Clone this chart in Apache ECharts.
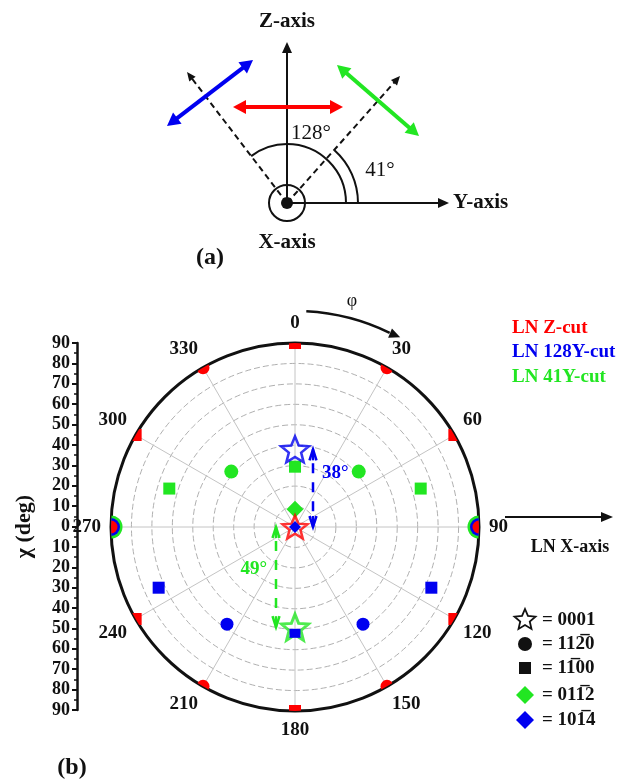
<!DOCTYPE html>
<html>
<head>
<meta charset="utf-8">
<title>LN pole figure</title>
<script src="https://cdn.jsdelivr.net/npm/echarts@6/dist/echarts.min.js"></script>
<style>
  html, body { margin: 0; padding: 0; background: #fff; }
  #chart { width: 624px; height: 780px; }
</style>
</head>
<body>
<div id="chart"></div>
<script>
// 数据: [chi, phi]
const zStar = [[0, 0]];
const zSquares = [[90, 0], [90, 60], [90, 120], [90, 180], [90, 240], [90, 300]];
const zCircles = [[90, 30], [90, 90], [90, 150], [90, 210], [90, 270], [90, 330]];

const y128Star = [[38, 0]];
const y128Circles = [[58, 145], [58, 215]];
const y128RimCircles = [[90, 90], [90, 270]];
const y128Squares = [[73, 114], [73, 246], [52, 180]];
const y128Diamond = [[0, 0]];

const y41Star = [[49, 180]];
const y41Circles = [[41.3, 49], [41.3, 311]];
const y41RimCircles = [[90, 90], [90, 270]];
const y41Squares = [[64.3, 73], [64.3, 287], [29.5, 0]];
const y41Diamond = [[8.7, 0]];

// chi 区间标注 [from, to, phi]
const chiArrows = [[0, 38, 0], [0, 49, 180]];

// 刻度
const chiMin = -90, chiMax = 90, chiStep = 10;
const phiStep = 30;

const RED = '#ff0000';
const BLUE = '#0000f0';
const GREEN = '#22e622';
const SERIF = '"Liberation Serif", "Times New Roman", serif';
const STAR = 'path://M50,0 L62.9,32.2 L97.6,34.5 L70.9,56.8 L79.4,90.5 L50,72 L20.6,90.5 L29.1,56.8 L2.4,34.5 L37.1,32.2 Z';

const arrowStyle = [
  { color: BLUE, dx: 18, text: '38°', at: 0.7, side: 1 },
  { color: GREEN, dx: -19, text: '49°', at: 0.42, side: -1 }
];

function txt(text, x, y, size, color, align, weight) {
  return {
    type: 'text', x: x, y: y,
    style: {
      text: text, fill: color || '#111',
      font: (weight || 'bold') + ' ' + size + 'px ' + SERIF,
      align: align || 'center', textAlign: align || 'center',
      verticalAlign: 'middle', textVerticalAlign: 'middle'
    }
  };
}

function head(tip, from, len, hw, color) {
  const dx = tip[0] - from[0], dy = tip[1] - from[1];
  const d = Math.hypot(dx, dy), ux = dx / d, uy = dy / d;
  const bx = tip[0] - ux * len, by = tip[1] - uy * len;
  return {
    type: 'polygon',
    shape: { points: [tip, [bx - uy * hw, by + ux * hw], [bx + uy * hw, by - ux * hw]] },
    style: { fill: color }
  };
}

function arrow(p1, p2, color, width, len, hw, dash, both) {
  const dx = p2[0] - p1[0], dy = p2[1] - p1[1];
  const d = Math.hypot(dx, dy), ux = dx / d, uy = dy / d;
  const s = both ? [p1[0] + ux * len * 0.8, p1[1] + uy * len * 0.8] : p1;
  const e = [p2[0] - ux * len * 0.8, p2[1] - uy * len * 0.8];
  const out = [{
    type: 'line', shape: { x1: s[0], y1: s[1], x2: e[0], y2: e[1] },
    style: { stroke: color, lineWidth: width, lineDash: dash || null }
  }, head(p2, p1, len, hw, color)];
  if (both) out.push(head(p1, p2, len, hw, color));
  return out;
}

function starPts(cx, cy, R, r) {
  const pts = [];
  for (let k = 0; k < 10; k++) {
    const a = -Math.PI / 2 + k * Math.PI / 5;
    const rr = k % 2 ? r : R;
    pts.push([cx + rr * Math.cos(a), cy + rr * Math.sin(a)]);
  }
  return pts;
}

// (a) 示意图
const C = [287, 203];
let graphics = [];
graphics = graphics.concat(arrow(C, [287, 42], '#111', 2, 11, 5));
graphics = graphics.concat(arrow(C, [449, 203], '#111', 2, 11, 5));
graphics = graphics.concat(arrow(C, [187, 72], '#111', 2, 9, 4, [6, 4]));
graphics = graphics.concat(arrow(C, [400, 76], '#111', 2, 9, 4, [6, 4]));
graphics = graphics.concat(arrow([233, 107], [343, 107], RED, 4, 13, 7, null, true));
graphics = graphics.concat(arrow([167, 126], [253, 60], BLUE, 4, 13, 7, null, true));
graphics = graphics.concat(arrow([337, 65], [419, 136], GREEN, 4, 13, 7, null, true));
graphics.push(
  { type: 'circle', shape: { cx: C[0], cy: C[1], r: 18 }, style: { fill: 'none', stroke: '#111', lineWidth: 2 } },
  { type: 'circle', shape: { cx: C[0], cy: C[1], r: 6 }, style: { fill: '#111' } },
  { type: 'arc', shape: { cx: C[0], cy: C[1], r: 59, startAngle: 0, endAngle: -127.4 * Math.PI / 180, clockwise: false }, style: { fill: 'none', stroke: '#111', lineWidth: 2 } },
  { type: 'arc', shape: { cx: C[0], cy: C[1], r: 71, startAngle: 0, endAngle: -48 * Math.PI / 180, clockwise: false }, style: { fill: 'none', stroke: '#111', lineWidth: 2 } },
  txt('Z-axis', 287, 22, 21),
  txt('Y-axis', 453, 203, 21, '#111', 'left'),
  txt('X-axis', 287, 243, 21),
  txt('(a)', 210, 258, 24),
  txt('128°', 311, 133, 21, '#111', 'center', 'normal'),
  txt('41°', 380, 170, 21, '#111', 'center', 'normal')
);

// (b) 图例与标注
const PC = [295, 527];
const a0 = (3 - 90) * Math.PI / 180, a1 = (26 - 90) * Math.PI / 180, a2 = (29 - 90) * Math.PI / 180;
const arcEnd = [PC[0] + 216 * Math.cos(a1), PC[1] + 216 * Math.sin(a1)];
const arcTip = [PC[0] + 217 * Math.cos(a2), PC[1] + 217 * Math.sin(a2)];
graphics.push(
  { type: 'arc', shape: { cx: PC[0], cy: PC[1], r: 216, startAngle: a0, endAngle: a1, clockwise: true }, style: { fill: 'none', stroke: '#111', lineWidth: 2.5 } },
  head(arcTip, arcEnd, 11, 5, '#111'),
  txt('φ', 352, 301, 18, '#111', 'center', 'normal'),
  txt('LN Z-cut', 512, 328, 19, RED, 'left'),
  txt('LN 128Y-cut', 512, 352, 19, BLUE, 'left'),
  txt('LN 41Y-cut', 512, 377, 19, GREEN, 'left'),
  txt('LN X-axis', 570, 547, 18),
  txt('(b)', 72, 768, 24)
);
graphics = graphics.concat(arrow([505, 517], [613, 517], '#111', 2, 12, 5));

// 符号图例
graphics.push(
  { type: 'polygon', shape: { points: starPts(525, 620, 11, 5) }, style: { fill: 'none', stroke: '#111', lineWidth: 1.8 } },
  { type: 'circle', shape: { cx: 525, cy: 644, r: 7 }, style: { fill: '#111' } },
  { type: 'rect', shape: { x: 519, y: 662, width: 12, height: 12 }, style: { fill: '#111' } },
  { type: 'polygon', shape: { points: [[525, 686], [534, 695], [525, 704], [516, 695]] }, style: { fill: GREEN } },
  { type: 'polygon', shape: { points: [[525, 711], [534, 720], [525, 729], [516, 720]] }, style: { fill: BLUE } },
  txt('= 0001', 542, 620, 19, '#111', 'left'),
  txt('= 112\u03050', 542, 644, 19, '#111', 'left'),
  txt('= 11\u030500', 542, 668, 19, '#111', 'left'),
  txt('= 011\u03052', 542, 695, 19, '#111', 'left'),
  txt('= 101\u03054', 542, 720, 19, '#111', 'left')
);

// 圆周上被裁剪的点
function rimItem(shape, size, color) {
  return function (params, api) {
    const p = api.coord([api.value(0), api.value(1)]);
    if (shape === 'circle') {
      return { type: 'circle', shape: { cx: p[0], cy: p[1], r: size / 2 }, style: { fill: color } };
    }
    return { type: 'rect', shape: { x: p[0] - size / 2, y: p[1] - size / 2, width: size, height: size }, style: { fill: color } };
  };
}

function rim(data, shape, size, color) {
  return { type: 'custom', coordinateSystem: 'polar', clip: true, data: data, renderItem: rimItem(shape, size, color), z: 3 };
}

function dots(data, symbol, size, color, hollow, bw) {
  return {
    type: 'scatter', coordinateSystem: 'polar', data: data, symbol: symbol, symbolSize: size, z: 4,
    itemStyle: hollow
      ? { color: 'rgba(255,255,255,0)', borderColor: color, borderWidth: bw || 2.5 }
      : { color: color, opacity: 1 }
  };
}

const option = {
  animation: false,
  backgroundColor: '#fff',
  polar: { center: PC, radius: 184 },
  angleAxis: {
    type: 'value', min: 0, max: 360, interval: phiStep, startAngle: 90, clockwise: true,
    axisLine: { lineStyle: { color: '#111', width: 3 } },
    axisTick: { show: false },
    axisLabel: {
      margin: 10, color: '#111', fontFamily: SERIF, fontWeight: 'bold', fontSize: 19,
      formatter: v => (v === 360 ? '' : String(v))
    },
    splitLine: { lineStyle: { color: '#c4c4c4', width: 1 } }
  },
  radiusAxis: {
    type: 'value', min: 0, max: 90, interval: chiStep,
    axisLine: { show: false }, axisTick: { show: false }, axisLabel: { show: false },
    splitLine: { show: true, lineStyle: { color: '#b0b0b0', width: 1, type: [6, 3] } }
  },
  grid: { left: 77, top: 343, width: 1, height: 367 },
  xAxis: { type: 'value', show: false },
  yAxis: {
    type: 'value', min: chiMin, max: chiMax, interval: chiStep,
    name: 'χ (deg)', nameLocation: 'middle', nameGap: 42, nameRotate: 90,
    nameTextStyle: { fontFamily: SERIF, fontWeight: 'bold', fontSize: 22, color: '#111' },
    axisLine: { show: true, lineStyle: { color: '#111', width: 2.5 } },
    axisTick: { show: true, length: 5, lineStyle: { color: '#111', width: 2 } },
    minorTick: { show: true, splitNumber: 2, length: 3, lineStyle: { color: '#111', width: 1.5 } },
    axisLabel: {
      margin: 7, color: '#111', fontFamily: SERIF, fontWeight: 'bold', fontSize: 18,
      formatter: v => String(Math.abs(v))
    },
    splitLine: { show: false }
  },
  graphic: graphics,
  series: [
    rim(y41RimCircles, 'circle', 23, GREEN),
    rim(y128RimCircles, 'circle', 18, BLUE),
    rim(zCircles, 'circle', 13, RED),
    rim(zSquares, 'rect', 12, RED),
    dots(y41Squares, 'rect', 12, GREEN),
    dots(y41Circles, 'circle', 14, GREEN),
    dots(y41Diamond, 'diamond', [17, 17], GREEN),
    dots(y128Circles, 'circle', 13, BLUE),
    dots(y128Squares.slice(0, 2), 'rect', 12, BLUE),
    dots(y128Star, STAR, [28, 26], BLUE, true, 2.5),
    dots(zStar, STAR, [25, 23], RED, true, 2.5),
    dots(y128Diamond, 'diamond', [12, 12], BLUE),
    dots(y41Star, STAR, [27, 26], GREEN, true, 3),
    dots(y128Squares.slice(2), 'rect', [11, 9], BLUE),
    {
      type: 'custom', coordinateSystem: 'polar', data: chiArrows, z: 5,
      renderItem: function (params, api) {
        const s = arrowStyle[params.dataIndex];
        const a = api.coord([api.value(0), api.value(2)]);
        const b = api.coord([api.value(1), api.value(2)]);
        const x = a[0] + s.dx;
        const top = Math.min(a[1], b[1]), bottom = Math.max(a[1], b[1]);
        const ly = a[1] + (b[1] - a[1]) * s.at;
        const ls = { stroke: s.color, lineWidth: 2.5, fill: null };
        return {
          type: 'group',
          children: [
            { type: 'line', shape: { x1: x, y1: top + 14, x2: x, y2: bottom - 14 }, style: { stroke: s.color, lineWidth: 2.5, lineDash: [10, 9] } },
            { type: 'polyline', shape: { points: [[x - 3.5, top + 11], [x, top], [x + 3.5, top + 11]] }, style: ls },
            { type: 'line', shape: { x1: x, y1: top, x2: x, y2: top + 11 }, style: ls },
            { type: 'polyline', shape: { points: [[x - 3.5, bottom - 11], [x, bottom], [x + 3.5, bottom - 11]] }, style: ls },
            { type: 'line', shape: { x1: x, y1: bottom, x2: x, y2: bottom - 11 }, style: ls },
            {
              type: 'text', x: x + s.side * 9, y: ly,
              style: {
                text: s.text, fill: s.color, font: 'bold 19px ' + SERIF,
                align: s.side > 0 ? 'left' : 'right', textAlign: s.side > 0 ? 'left' : 'right',
                verticalAlign: 'middle', textVerticalAlign: 'middle'
              }
            }
          ]
        };
      }
    }
  ]
};

const chart = echarts.init(document.getElementById('chart'));
chart.setOption(option);
</script>
</body>
</html>
